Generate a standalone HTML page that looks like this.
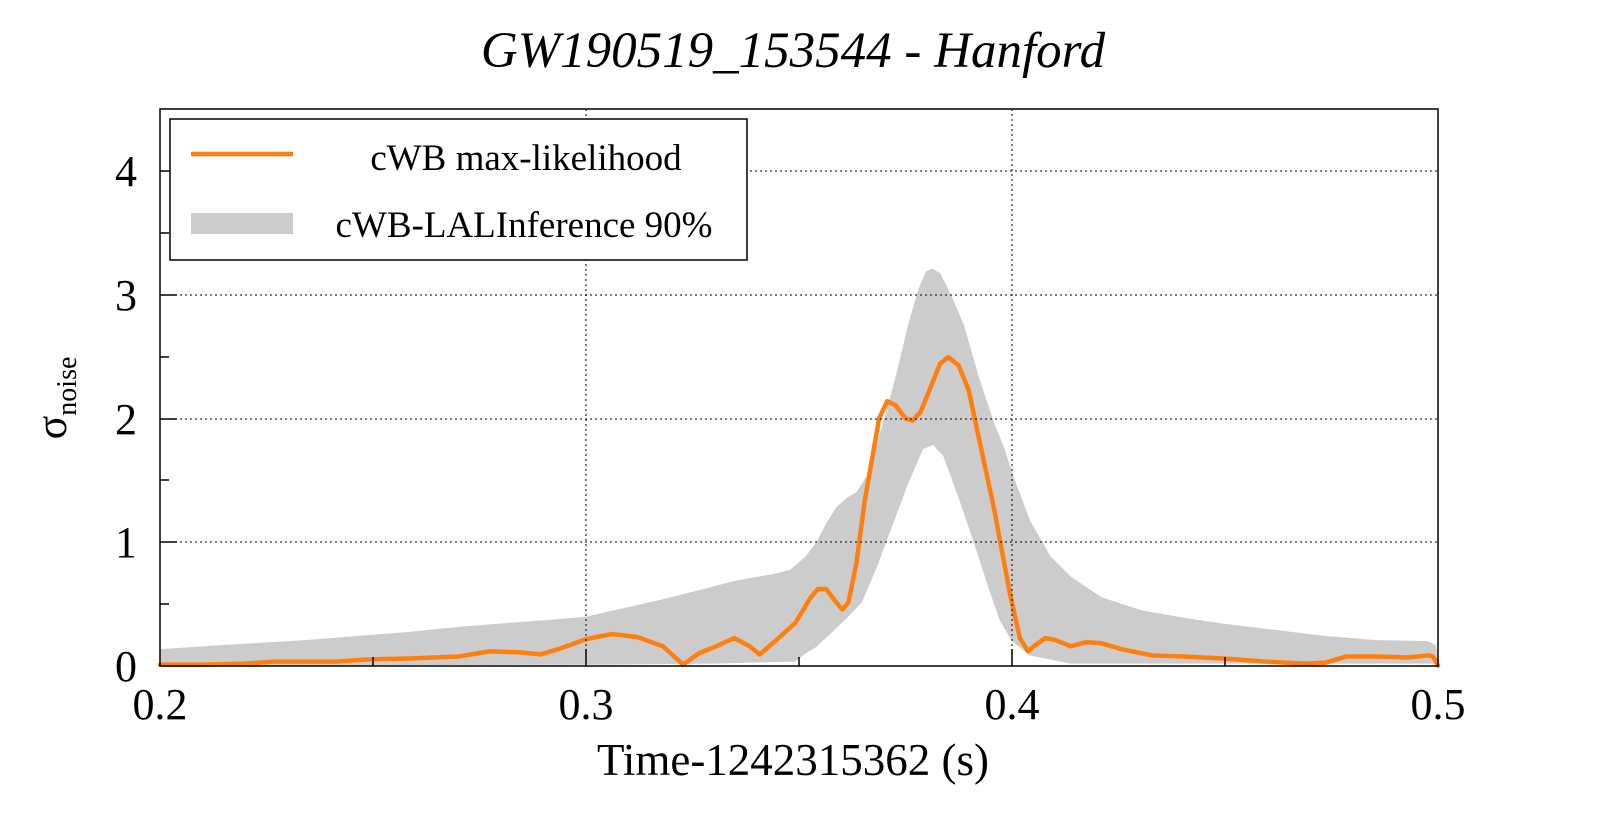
<!DOCTYPE html>
<html><head><meta charset="utf-8"><style>
body{margin:0;background:#fff;}
svg{display:block;font-family:"Liberation Serif",serif;}
</style></head><body>
<svg width="1599" height="813" viewBox="0 0 1599 813">
<rect width="1599" height="813" fill="#fff"/>
<g transform="translate(-0.14,-0.3) scale(1.02,1.0214)">
<polygon fill="#cccccc" points="157,636 200,633 250,630 300,627 350,623 400,619 450,614 500,610 540,607 575,604 610,596 650,587 690,577 720,569 760,562 775,558 790,545 800,532 810,513 820,497 830,488 840,482 850,466 860,434 870,400 880,362 890,320 900,285 908,266 914,263 922,268 932,288 945,318 960,370 975,415 985,440 995,470 1010,510 1030,545 1050,565 1080,585 1120,598 1160,605 1200,611 1250,617 1300,623 1350,627 1400,628 1408,632 1410,650 1050,650 1010,642 992,628 980,607 970,578 955,532 940,488 925,447 915,436 905,440 890,475 875,515 860,555 845,590 830,606 815,620 800,634 790,640 780,648 700,650 600,651 157,652"/>
<polyline fill="none" stroke="#ff7f0e" stroke-width="4.4" stroke-linejoin="round" stroke-linecap="round" points="157,651 200,651 240,650 270,648 300,648 330,648 360,646 400,645 450,643 480,638 510,639 530,641 550,635 575,626 600,621 625,624 650,633 670,651 685,640 700,634 720,625 735,633 745,641 760,628 780,610 795,585 802,577 810,577 820,590 826,597 832,590 840,550 848,490 855,450 862,410 870,393 878,397 888,410 895,412 903,403 913,378 922,356 930,350 940,358 950,383 960,430 975,500 990,580 1000,625 1008,638 1015,632 1025,625 1035,627 1050,633 1065,629 1080,630 1100,636 1130,642 1160,643 1200,645 1240,648 1280,650 1300,649 1320,643 1350,643 1380,644 1400,642 1405,643 1410,652"/>
</g>
<g stroke="#000" stroke-width="1" stroke-dasharray="2,3">
<line x1="586" y1="109" x2="586" y2="666"/><line x1="1012" y1="109" x2="1012" y2="666"/>
<line x1="160" y1="171" x2="1438" y2="171"/><line x1="160" y1="295" x2="1438" y2="295"/>
<line x1="160" y1="419" x2="1438" y2="419"/><line x1="160" y1="542" x2="1438" y2="542"/>
</g>
<rect x="160" y="109" width="1278" height="557" fill="none" stroke="#000" stroke-width="1.5"/>
<g stroke="#000" stroke-width="1.5">
<line x1="160" y1="171" x2="177" y2="171"/><line x1="160" y1="233" x2="169" y2="233"/>
<line x1="160" y1="295" x2="177" y2="295"/><line x1="160" y1="357" x2="169" y2="357"/>
<line x1="160" y1="419" x2="177" y2="419"/><line x1="160" y1="480" x2="169" y2="480"/>
<line x1="160" y1="542" x2="177" y2="542"/><line x1="160" y1="604" x2="169" y2="604"/>
<line x1="586" y1="666" x2="586" y2="649"/><line x1="1012" y1="666" x2="1012" y2="649"/>
<line x1="373" y1="666" x2="373" y2="657"/><line x1="799" y1="666" x2="799" y2="657"/><line x1="1225" y1="666" x2="1225" y2="657"/>
</g>
<rect x="170" y="119" width="577" height="141" fill="#fff" stroke="#000" stroke-width="1.5"/>
<line x1="191" y1="154" x2="293" y2="154" stroke="#ff7f0e" stroke-width="4.4"/>
<rect x="191" y="213" width="102" height="21" fill="#cccccc"/>
<g font-size="37" fill="#000">
<text x="526" y="170" text-anchor="middle">cWB max-likelihood</text>
<text x="524" y="237" text-anchor="middle">cWB-LALInference 90%</text>
</g>
<text x="793" y="67" font-size="51" font-style="italic" text-anchor="middle">GW190519_153544 - Hanford</text>
<g font-size="44" text-anchor="end">
<text x="137" y="186">4</text><text x="137" y="310">3</text><text x="137" y="434">2</text><text x="137" y="557">1</text><text x="137" y="681">0</text>
</g>
<g font-size="44" text-anchor="middle">
<text x="160" y="719">0.2</text><text x="586" y="719">0.3</text><text x="1012" y="719">0.4</text><text x="1438" y="719">0.5</text>
</g>
<text x="793" y="775" font-size="45" text-anchor="middle">Time-1242315362 (s)</text>
<g transform="translate(66,398) rotate(-90)"><text x="0" y="0" font-size="44" text-anchor="middle">σ<tspan font-size="28" dy="10">noise</tspan></text></g>
</svg>
</body></html>
